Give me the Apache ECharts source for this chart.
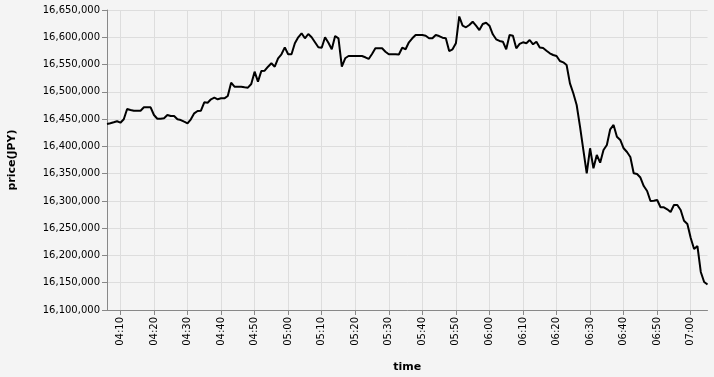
<!DOCTYPE html>
<html>
<head>
<meta charset="utf-8">
<script src="https://cdn.jsdelivr.net/npm/echarts@6/dist/echarts.min.js"></script>
<style>
html,body{margin:0;padding:0;background:#f4f4f4;}
#chart{width:714px;height:377px;}
</style>
</head>
<body>
<div id="chart"></div>
<script>
const times = [
"04:06","04:07","04:08","04:09","04:10","04:11","04:12","04:13","04:14","04:15","04:16","04:17","04:18","04:19",
"04:20","04:21","04:22","04:23","04:24","04:25","04:26","04:27","04:28","04:29",
"04:30","04:31","04:32","04:33","04:34","04:35","04:36","04:37","04:38","04:39",
"04:40","04:41","04:42","04:43","04:44","04:45","04:46","04:47","04:48","04:49",
"04:50","04:51","04:52","04:53","04:54","04:55","04:56","04:57","04:58","04:59",
"05:00","05:01","05:02","05:03","05:04","05:05","05:06","05:07","05:08","05:09",
"05:10","05:11","05:12","05:13","05:14","05:15","05:16","05:17","05:18","05:19",
"05:20","05:21","05:22","05:23","05:24","05:25","05:26","05:27","05:28","05:29",
"05:30","05:31","05:32","05:33","05:34","05:35","05:36","05:37","05:38","05:39",
"05:40","05:41","05:42","05:43","05:44","05:45","05:46","05:47","05:48","05:49",
"05:50","05:51","05:52","05:53","05:54","05:55","05:56","05:57","05:58","05:59",
"06:00","06:01","06:02","06:03","06:04","06:05","06:06","06:07","06:08","06:09",
"06:10","06:11","06:12","06:13","06:14","06:15","06:16","06:17","06:18","06:19",
"06:20","06:21","06:22","06:23","06:24","06:25","06:26","06:27","06:28","06:29",
"06:30","06:31","06:32","06:33","06:34","06:35","06:36","06:37","06:38","06:39",
"06:40","06:41","06:42","06:43","06:44","06:45","06:46","06:47","06:48","06:49",
"06:50","06:51","06:52","06:53","06:54","06:55","06:56","06:57","06:58","06:59",
"07:00","07:01","07:02","07:03","07:04","07:05"
];

const prices = [
16441000,16442300,16444100,16446000,16443400,16449600,16468500,16466700,16465400,16465400,
16465400,16471600,16471600,16471600,16457500,16450700,16450700,16451500,16457500,16455700,
16455700,16449600,16448300,16445200,16442300,16449600,16460600,16464800,16465400,16480800,
16480000,16486300,16489200,16486300,16488100,16488100,16492300,16516700,16509400,16509400,
16509400,16508300,16507600,16514300,16536900,16518600,16538200,16538700,16546100,16552300,
16546100,16561500,16568800,16581600,16568800,16568800,16589000,16600000,16607300,16598100,
16606000,16600000,16590800,16581600,16580900,16600000,16590000,16578000,16602300,16598100,
16546100,16561500,16565700,16565700,16565700,16565700,16565700,16563300,16560200,16569300,
16579800,16579800,16579800,16573600,16568800,16568800,16568800,16568400,16580900,16578000,
16590800,16598100,16604200,16604200,16604200,16602900,16598100,16598100,16604200,16602300,
16599200,16598100,16574800,16578000,16589000,16638100,16621200,16618300,16622500,16628600,
16621200,16613300,16624300,16626700,16621200,16605500,16596300,16593200,16591900,16578000,
16604200,16602900,16579800,16587700,16590800,16589000,16595000,16587100,16591900,16581300,
16580300,16575400,16570600,16567500,16565700,16556500,16554100,16549200,16515600,16497300,
16475800,16436100,16393300,16350600,16396500,16359800,16384200,16370100,16393300,16402500,
16431300,16439200,16417700,16411700,16396500,16389700,16380500,16350600,16349300,16342900,
16327300,16318200,16299800,16300400,16301700,16288300,16288300,16284600,16279700,16292500,
16292500,16283300,16263700,16257700,16232000,16211800,16217300,16169700,16151300,16146800
];

const yMin = 16100000;
const yMax = 16650000;
const yStep = 50000;
const xTitle = "time";
const yTitle = "price(JPY)";

const FONT = "DejaVu Sans";
const isTen = (idx, val) => String(val).slice(-1) === "0";

const chart = echarts.init(document.getElementById('chart'), null, {renderer: 'canvas'});
chart.setOption({
  backgroundColor: '#f4f4f4',
  animation: false,
  grid: {left: 107, right: 6.5, top: 10, bottom: 67, outerBoundsMode: 'none', containLabel: false},
  xAxis: {
    type: 'category',
    data: times,
    boundaryGap: false,
    name: xTitle,
    nameLocation: 'middle',
    nameGap: 52,
    nameTextStyle: {fontFamily: FONT, fontSize: 11, fontWeight: 'bold', color: '#000'},
    axisLine: {show: true, lineStyle: {color: '#888', width: 1}},
    axisTick: {show: true, length: 5, interval: isTen, lineStyle: {color: '#888'}},
    axisLabel: {show: true, rotate: 90, margin: 7, interval: isTen, fontFamily: FONT, fontSize: 10, color: '#000'},
    splitLine: {show: true, interval: isTen, lineStyle: {color: '#ddd', width: 1}}
  },
  yAxis: {
    type: 'value',
    min: yMin,
    max: yMax,
    interval: yStep,
    name: yTitle,
    nameLocation: 'middle',
    nameGap: 89,
    nameTextStyle: {fontFamily: FONT, fontSize: 11, fontWeight: 'bold', color: '#000'},
    axisLine: {show: true, lineStyle: {color: '#888', width: 1}},
    axisTick: {show: true, length: 5, lineStyle: {color: '#888'}},
    axisLabel: {margin: 7, fontFamily: FONT, fontSize: 10, color: '#000',
      formatter: v => Number(v).toLocaleString('en-US')},
    splitLine: {show: true, lineStyle: {color: '#ddd', width: 1}}
  },
  series: [{
    type: 'line',
    data: prices,
    showSymbol: false,
    symbol: 'none',
    lineStyle: {color: '#000', width: 2},
    itemStyle: {color: '#000'}
  }]
});
</script>
</body>
</html>
